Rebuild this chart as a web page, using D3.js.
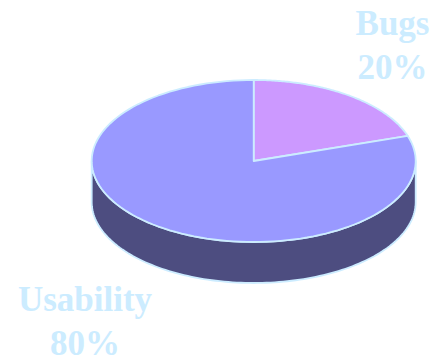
<!DOCTYPE html>
<html>
<head>
<meta charset="utf-8">
<script src="https://cdn.jsdelivr.net/npm/d3@7"></script>
<style>
html, body { margin: 0; padding: 0; background: #fff; }
svg { display: block; }
</style>
</head>
<body>
<svg id="chart" width="433" height="360"></svg>
<script>
const categories = ["Bugs", "Usability"];
const values = [20, 80];
const sliceColors = ["#cc99ff", "#9999ff"];
const wallColor = "#4d4d80";
const edgeColor = "#ccecff";

const width = 433, height = 360;
const cx = 253.7, cy = 161, rx = 162, ry = 81, depth = 41;

const svg = d3.select("#chart").attr("viewBox", [0, 0, width, height]);

const pie = d3.pie().sort(null).value(d => d);
const arcs = pie(values);

// Projects a pie angle (0 = up, clockwise) onto the tilted disc.
const px = a => cx + rx * Math.sin(a);
const py = a => cy - ry * Math.cos(a);

const sweep = (a0, a1, n = 120) => d3.range(n + 1).map(i => a0 + (a1 - a0) * i / n);
const linePath = d3.line().x(d => d[0]).y(d => d[1]);

// Front wall of the disc: the lower half of the rim, extruded downward.
const front = sweep(Math.PI / 2, Math.PI * 3 / 2);
const wallPts = front.map(a => [px(a), py(a)])
  .concat(front.slice().reverse().map(a => [px(a), py(a) + depth]));
svg.append("path")
  .attr("d", linePath(wallPts) + "Z")
  .attr("fill", wallColor)
  .attr("stroke", edgeColor)
  .attr("stroke-width", 1.8)
  .attr("stroke-linejoin", "round");

// Top face slices.
svg.selectAll("path.slice")
  .data(arcs)
  .join("path")
  .attr("class", "slice")
  .attr("d", d => {
    const pts = [[cx, cy]].concat(sweep(d.startAngle, d.endAngle).map(a => [px(a), py(a)]));
    return linePath(pts) + "Z";
  })
  .attr("fill", (d, i) => sliceColors[i])
  .attr("stroke", edgeColor)
  .attr("stroke-width", 1.8)
  .attr("stroke-linejoin", "round");

// Category and percentage labels.
const labelAnchors = [[392.5, 35, 78.5], [85, 311, 354.5]];
const total = d3.sum(values);
const labels = svg.selectAll("text.label")
  .data(categories)
  .join("text")
  .attr("class", "label")
  .attr("text-anchor", "middle")
  .attr("font-family", "'Liberation Serif', serif")
  .attr("font-weight", "bold")
  .attr("font-size", 35)
  .attr("fill", edgeColor);
labels.append("tspan")
  .attr("x", (d, i) => labelAnchors[i][0])
  .attr("y", (d, i) => labelAnchors[i][1])
  .text(d => d);
labels.append("tspan")
  .attr("x", (d, i) => labelAnchors[i][0])
  .attr("y", (d, i) => labelAnchors[i][2])
  .text((d, i) => d3.format(".0%")(values[i] / total));
</script>
</body>
</html>
